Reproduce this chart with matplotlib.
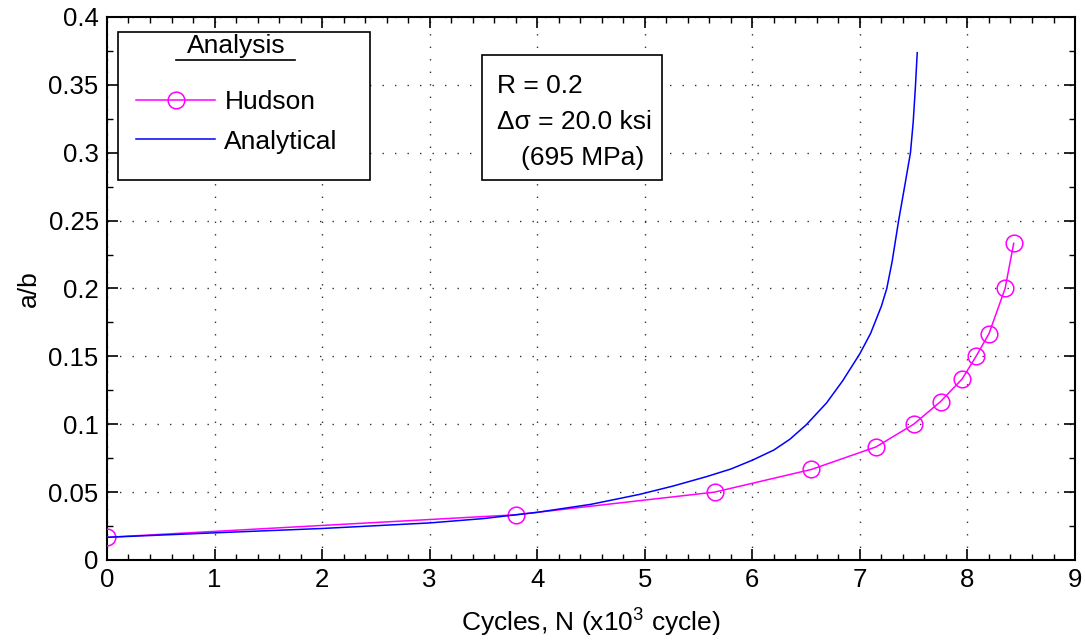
import matplotlib
matplotlib.use("Agg")
import matplotlib.pyplot as plt
from matplotlib.lines import Line2D
from matplotlib.patches import Rectangle
from matplotlib.ticker import MultipleLocator, FormatStrFormatter

plt.rcParams["font.family"] = ["Liberation Sans", "DejaVu Sans"]
plt.rcParams["mathtext.fontset"] = "custom"
plt.rcParams["mathtext.rm"] = "Liberation Sans"

# Hudson test data (cycles x10^3, a/b)
hudson_n = [0.0, 3.8, 5.65, 6.55, 7.15, 7.5, 7.75, 7.95, 8.08, 8.2, 8.35, 8.43]
hudson_ab = [0.0167, 0.0333, 0.05, 0.0667, 0.0833, 0.1, 0.1167, 0.1333,
             0.15, 0.1667, 0.2, 0.2333]

# analytical curve
anal_n = [0.0, 1.0, 2.0, 3.0, 3.5, 4.0, 4.5, 4.95, 5.26, 5.57, 5.8, 6.0,
          6.2, 6.35, 6.5, 6.69, 6.84, 7.0, 7.1, 7.2, 7.25, 7.3, 7.36, 7.42,
          7.47, 7.495, 7.515, 7.533]
anal_ab = [0.0167, 0.020, 0.0232, 0.0273, 0.0305, 0.0351, 0.041, 0.0483,
           0.0544, 0.0613, 0.067, 0.0735, 0.081, 0.089, 0.0995, 0.1157,
           0.132, 0.152, 0.167, 0.187, 0.200, 0.220, 0.250, 0.277, 0.300,
           0.322, 0.347, 0.3737]

box_lines = ["R = 0.2", "\u0394\u03c3 = 20.0 ksi", "(695 MPa)"]

FS = 19

fig = plt.figure(figsize=(10.85, 6.41), dpi=100)
ax = fig.add_axes([0.0986, 0.1264, 0.8922, 0.8471])

ax.plot(hudson_n, hudson_ab, color="#ff00ff", lw=1.1, marker="o", ms=12,
        mfc="none", mec="#ff00ff", mew=1.1, label="Hudson", zorder=3)
ax.plot(anal_n, anal_ab, color="#0000ff", lw=1.1, label="Analytical", zorder=3)

ax.set_xlim(0, 9)
ax.set_ylim(0, 0.4)
ax.xaxis.set_major_locator(MultipleLocator(1))
ax.xaxis.set_minor_locator(MultipleLocator(0.2))
ax.yaxis.set_major_locator(MultipleLocator(0.05))
ax.yaxis.set_minor_locator(MultipleLocator(0.025))
ax.yaxis.set_major_formatter(FormatStrFormatter("%g"))
ax.tick_params(which="both", direction="in", top=True, right=True,
               labelsize=18.5, pad=6)
ax.tick_params(which="major", length=8, width=1.2)
ax.tick_params(which="minor", length=4, width=1)
for s in ax.spines.values():
    s.set_linewidth(1.5)

ax.grid(True, which="major", color="#333333", lw=1, linestyle=(0, (1, 8)))

ax.set_xlabel("Cycles, N (x10$^3$ cycle)", fontsize=FS)
ax.xaxis.set_label_coords(0.5, -0.083)
ax.set_ylabel("a/b", fontsize=FS)
ax.yaxis.set_label_coords(-0.068, 0.5)

# legend: frame + underlined title drawn by hand
ax.add_patch(Rectangle((0.0114, 0.700), 0.2603, 0.2726, transform=ax.transAxes,
                       fc="white", ec="black", lw=1.2, zorder=5))
ax.text(0.134, 0.9466, "Analysis", transform=ax.transAxes, fontsize=FS,
        ha="center", va="center", zorder=6)
ax.add_line(Line2D([0.0713, 0.194], [0.921, 0.921], transform=ax.transAxes,
                   color="black", lw=1.2, zorder=6))
leg = ax.legend(loc="upper left", bbox_to_anchor=(0.030, 0.866),
                borderaxespad=0, borderpad=0, frameon=False, fontsize=FS,
                handlelength=3.0, handletextpad=0.35, labelspacing=0.6)
leg.set_zorder(7)

# parameters box
ax.add_patch(Rectangle((0.3874, 0.6998), 0.186, 0.2302, transform=ax.transAxes,
                       fc="white", ec="black", lw=1.2, zorder=5))
for txt, x, y in zip(box_lines, [0.4029, 0.4029, 0.4277], [0.8729, 0.8066, 0.7403]):
    ax.text(x, y, txt, transform=ax.transAxes, fontsize=FS, ha="left",
            va="center", zorder=6)

fig.savefig("out.png", dpi=100)
